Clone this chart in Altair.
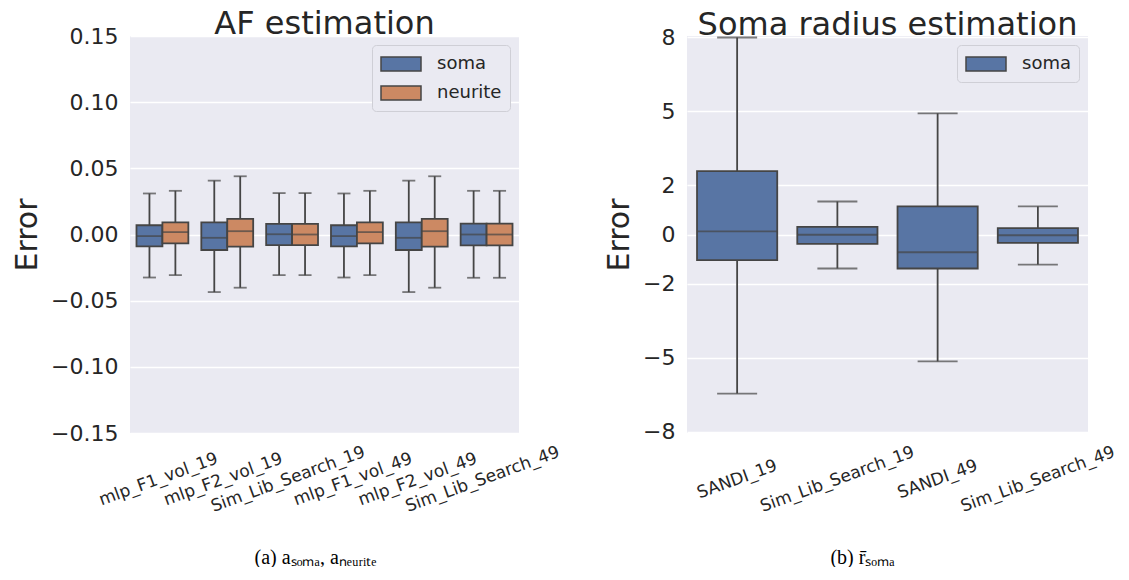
import altair as alt
import pandas as pd

# ---------------- data ----------------
af_categories = ["mlp_F1_vol_19", "mlp_F2_vol_19", "Sim_Lib_Search_19",
                 "mlp_F1_vol_49", "mlp_F2_vol_49", "Sim_Lib_Search_49"]
af_series = ["soma", "neurite"]

soma_upper = [0.031, 0.0407, 0.0313, 0.031, 0.0407, 0.033]
soma_q3 = [0.007, 0.0092, 0.008, 0.007, 0.0092, 0.0082]
soma_median = [-0.0012, -0.0025, 0.0002, -0.0012, -0.0025, 0.0]
soma_q1 = [-0.009, -0.0117, -0.008, -0.009, -0.0117, -0.0082]
soma_lower = [-0.0325, -0.0435, -0.0307, -0.0325, -0.0435, -0.0327]

neurite_upper = [0.033, 0.044, 0.0313, 0.033, 0.044, 0.033]
neurite_q3 = [0.0092, 0.0118, 0.008, 0.0092, 0.0118, 0.0082]
neurite_median = [0.0018, 0.0025, 0.0, 0.0018, 0.0025, 0.0]
neurite_q1 = [-0.0067, -0.0092, -0.008, -0.0067, -0.0092, -0.0082]
neurite_lower = [-0.0307, -0.0402, -0.0307, -0.0307, -0.0402, -0.0327]

radius_categories = ["SANDI_19", "Sim_Lib_Search_19", "SANDI_49", "Sim_Lib_Search_49"]
radius_upper = [8.0, 1.34, 4.92, 1.14]
radius_q3 = [2.57, 0.31, 1.14, 0.26]
radius_median = [0.13, -0.01, -0.72, -0.03]
radius_q1 = [-1.04, -0.38, -1.38, -0.34]
radius_lower = [-6.46, -1.38, -5.15, -1.22]

af_ticks = [-0.15, -0.10, -0.05, 0.0, 0.05, 0.10, 0.15]
radius_ticks = [-8, -5, -2, 0, 2, 5, 8]

# ---------------- tables ----------------
rows = []
for i, c in enumerate(af_categories):
    rows.append(dict(category=c, series="soma", lower=soma_lower[i], q1=soma_q1[i],
                     median=soma_median[i], q3=soma_q3[i], upper=soma_upper[i]))
    rows.append(dict(category=c, series="neurite", lower=neurite_lower[i], q1=neurite_q1[i],
                     median=neurite_median[i], q3=neurite_q3[i], upper=neurite_upper[i]))
df_af = pd.DataFrame(rows)

df_r = pd.DataFrame(dict(category=radius_categories, series=["soma"] * 4,
                         lower=radius_lower, q1=radius_q1, median=radius_median,
                         q3=radius_q3, upper=radius_upper))

LINE = "#454545"
TXT = "#262626"
BLUE = "#5875a4"
ORANGE = "#cc8963"
LW = 1.8


def y_axis(values, fmt):
    return alt.Axis(values=values, format=fmt, title="Error", titleFontSize=30,
                    titleFontWeight="normal", titlePadding=8, labelFontSize=22,
                    labelPadding=12, grid=True, gridColor="white", gridWidth=1.3,
                    domain=False, ticks=False, labelColor=TXT, titleColor=TXT)


def x_axis(caption, tx, offset):
    return alt.Axis(title=caption, titleFont="Liberation Serif", titleFontSize=20,
                    titleFontWeight="normal", titleX=tx, titleY=130,
                    titleBaseline="alphabetic", titleAlign="center", titleColor="black",
                    labelAngle=340, labelAlign="center", labelBaseline="middle",
                    labelPadding=46, labelFontSize=17, labelOffset=offset,
                    labelOverlap=False, labelColor=TXT, domain=False, ticks=False,
                    grid=False)


def legend():
    return alt.Legend(title=None, orient="top-right", offset=9, fillColor="#eaeaf2",
                      strokeColor="#cfcfd6", cornerRadius=4, padding=8,
                      labelFontSize=18, labelColor=TXT, labelOffset=35, rowPadding=8,
                      symbolType="M-1,-0.7H3V0.7H-1Z", symbolSize=400,
                      symbolStrokeColor=LINE, symbolStrokeWidth=1.5, symbolOpacity=1)


def title(text):
    return alt.TitleParams(text, fontSize=32, font="DejaVu Sans", fontWeight="normal",
                           color=TXT, offset=-16, anchor="middle")


# ---------------- left panel ----------------
af_y_scale = alt.Scale(domain=[-0.15, 0.15], nice=False, zero=False)
af_yax = y_axis(af_ticks, ".2f")
base_l = alt.Chart(df_af).encode(
    x=alt.X("category:N", sort=af_categories,
            scale=alt.Scale(paddingInner=0.2, paddingOuter=0.1),
            axis=x_axis("(a) a\u209b\u2092\u2098\u2090, a\u2099\u2091\u1d64\u1d63\u1d62\u209c\u2091", 185, -4)),
    xOffset=alt.XOffset("series:N", sort=af_series,
                        scale=alt.Scale(paddingInner=0, paddingOuter=0)),
)
l_whisk = base_l.mark_rule(color=LINE, strokeWidth=LW).encode(
    y=alt.Y("lower:Q", scale=af_y_scale, axis=af_yax, title="Error"), y2="upper:Q")
l_cap_lo = base_l.mark_tick(color=LINE, size=13, thickness=LW).encode(
    y=alt.Y("lower:Q", scale=af_y_scale, axis=af_yax, title="Error"))
l_cap_hi = base_l.mark_tick(color=LINE, size=13, thickness=LW).encode(
    y=alt.Y("upper:Q", scale=af_y_scale, axis=af_yax, title="Error"))
l_box = base_l.mark_bar(stroke=LINE, strokeWidth=LW, opacity=1).encode(
    y=alt.Y("q1:Q", scale=af_y_scale, axis=af_yax, title="Error"), y2="q3:Q",
    color=alt.Color("series:N", sort=af_series,
                    scale=alt.Scale(domain=af_series, range=[BLUE, ORANGE]),
                    legend=legend()))
l_med = base_l.mark_tick(color=LINE, size=26, thickness=LW).encode(
    y=alt.Y("median:Q", scale=af_y_scale, axis=af_yax, title="Error"))

left = alt.layer(l_whisk, l_cap_lo, l_cap_hi, l_box, l_med).properties(
    width=389, height=397, title=title("AF estimation"))

# ---------------- right panel ----------------
r_y_scale = alt.Scale(domain=[-8.06, 8.06], nice=False, zero=False)
r_yax = y_axis(radius_ticks, "d")
base_r = alt.Chart(df_r).encode(
    x=alt.X("category:N", sort=radius_categories,
            scale=alt.Scale(paddingInner=0.2, paddingOuter=0.1),
            axis=x_axis("(b) r\u0304\u209b\u2092\u2098\u2090", 175, 0)),
)
r_whisk = base_r.mark_rule(color=LINE, strokeWidth=LW).encode(
    y=alt.Y("lower:Q", scale=r_y_scale, axis=r_yax, title="Error"), y2="upper:Q")
r_cap_lo = base_r.mark_tick(color=LINE, size=40, thickness=LW).encode(
    y=alt.Y("lower:Q", scale=r_y_scale, axis=r_yax, title="Error"))
r_cap_hi = base_r.mark_tick(color=LINE, size=40, thickness=LW).encode(
    y=alt.Y("upper:Q", scale=r_y_scale, axis=r_yax, title="Error"))
r_box = base_r.mark_bar(stroke=LINE, strokeWidth=LW, opacity=1).encode(
    y=alt.Y("q1:Q", scale=r_y_scale, axis=r_yax, title="Error"), y2="q3:Q",
    color=alt.Color("series:N", scale=alt.Scale(domain=["soma"], range=[BLUE]),
                    legend=legend()))
r_med = base_r.mark_tick(color=LINE, size=80, thickness=LW).encode(
    y=alt.Y("median:Q", scale=r_y_scale, axis=r_yax, title="Error"))

right = alt.layer(r_whisk, r_cap_lo, r_cap_hi, r_box, r_med).properties(
    width=401, height=397, title=title("Soma radius estimation"))

chart = alt.hconcat(left, right, spacing=42).resolve_scale(
    color="independent", x="independent", y="independent"
).resolve_legend(color="independent").properties(
    padding={"left": 4, "top": 0, "right": 0, "bottom": 0}
).configure(font="DejaVu Sans").configure_view(
    fill="#eaeaf2", strokeWidth=0
).configure_axis(labelFont="DejaVu Sans", titleFont="DejaVu Sans")

chart.save("out.html", embed_options={"renderer": "svg", "actions": False})
